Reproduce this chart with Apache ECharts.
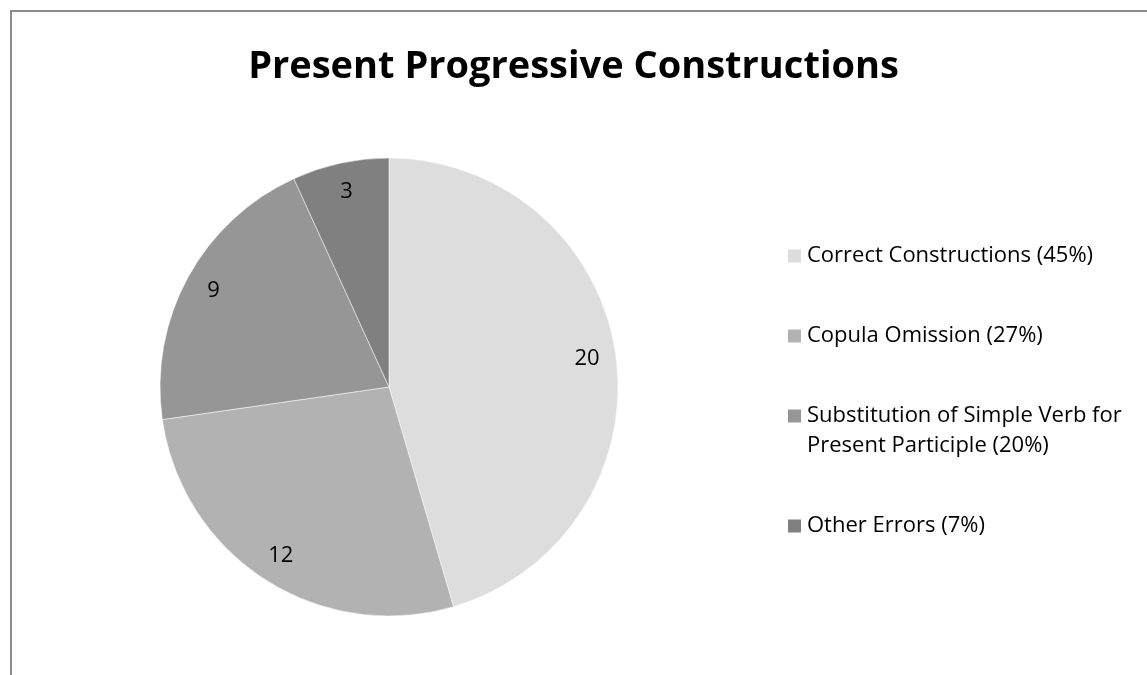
<!DOCTYPE html>
<html>
<head>
<meta charset="utf-8">
<script src="https://cdn.jsdelivr.net/npm/echarts@6/dist/echarts.min.js"></script>
<style>
html,body{margin:0;padding:0;background:#fff;}
#chart{width:1147px;height:675px;}
</style>
</head>
<body>
<div id="chart"></div>
<script>
const titleText = 'Present Progressive Constructions';
const categories = ['Correct Constructions', 'Copula Omission', 'Substitution of Simple Verb for\nPresent Participle', 'Other Errors'];
const values = [20, 12, 9, 3];
const colors = ['#dddddd', '#b2b2b2', '#969696', '#808080'];

const total = values.reduce((a, b) => a + b, 0);
const data = categories.map((c, i) => ({ name: c, value: values[i], itemStyle: { color: colors[i] } }));

const legendTops = [236, 316, 366, 506];
const legends = categories.map((c, i) => ({
  orient: 'vertical',
  left: 781,
  top: legendTops[i],
  itemWidth: 15,
  itemHeight: 15,
  icon: 'rect',
  selectedMode: false,
  data: [c],
  formatter: function (name) {
    const k = categories.indexOf(name);
    const txt = name + ' (' + Math.round(values[k] / total * 100) + '%)';
    return name.indexOf('\n') >= 0 ? '\n' + txt : txt;
  },
  textStyle: { fontFamily: 'Open Sans', fontSize: 22, color: '#000', lineHeight: 30 }
}));

const chart = echarts.init(document.getElementById('chart'), null, { renderer: 'canvas' });
chart.setOption({
  animation: false,
  backgroundColor: '#ffffff',
  title: {
    text: titleText,
    left: 'center',
    top: 43,
    textStyle: { fontFamily: 'Open Sans', fontWeight: 'bold', fontSize: 38, color: '#000' }
  },
  graphic: [{
    type: 'rect',
    shape: { x: 11, y: 11, width: 1400, height: 900 },
    style: { fill: 'none', stroke: '#8c8c8c', lineWidth: 2 },
    silent: true
  }],
  legend: legends,
  series: [{
    type: 'pie',
    center: [389, 387],
    radius: [0, 229],
    startAngle: 90,
    clockwise: true,
    label: { show: false },
    labelLine: { show: false },
    itemStyle: { borderColor: '#ffffff', borderWidth: 0.5 },
    emphasis: { disabled: true },
    data: data
  }, {
    type: 'pie',
    center: [389, 387],
    radius: [170, 224],
    startAngle: 90,
    clockwise: true,
    silent: true,
    itemStyle: { color: 'rgba(0,0,0,0)' },
    label: {
      show: true,
      position: 'inside',
      formatter: '{c}',
      fontFamily: 'Open Sans',
      fontSize: 22,
      color: '#000'
    },
    labelLine: { show: false },
    emphasis: { disabled: true },
    data: categories.map((c, i) => ({ name: c, value: values[i] }))
  }]
});
</script>
</body>
</html>
